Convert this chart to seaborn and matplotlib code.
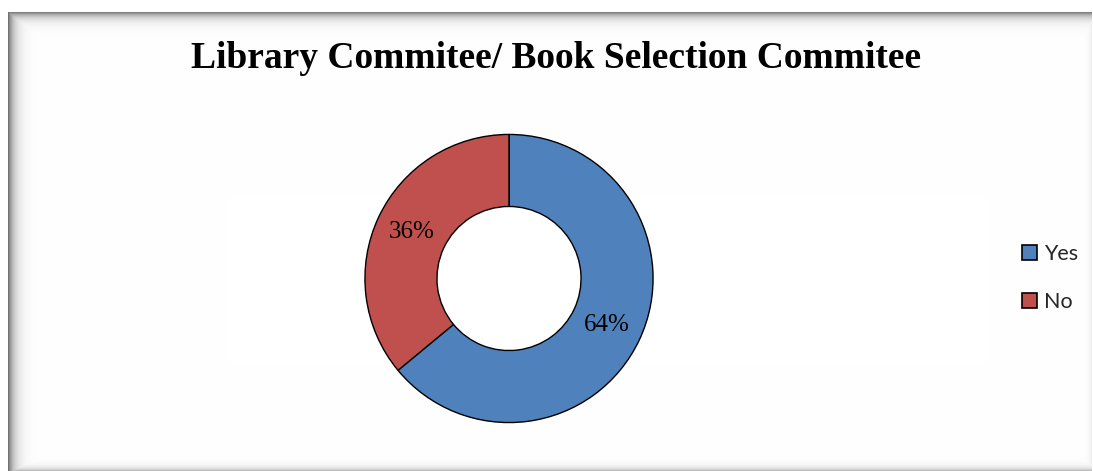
import numpy as np
import matplotlib
matplotlib.use("Agg")
import matplotlib.pyplot as plt
import seaborn as sns

# Survey answers
categories = ["Yes", "No"]
shares = [64, 36]
colors = ["#4F81BD", "#C0504D"]
title = "Library Commitee/ Book Selection Commitee"

sns.set_theme(style="white")
plt.rcParams["font.family"] = ["Liberation Serif", "DejaVu Serif"]

W, H, DPI = 1093, 471, 100
fig = plt.figure(figsize=(W / DPI, H / DPI), dpi=DPI)
fig.patch.set_facecolor("white")

# Framed panel with a soft inner shadow along its edges (drawn pixel for pixel)
xs = np.arange(W)[None, :].astype(float)
ys = np.arange(H)[:, None].astype(float)
x0, y0, x1, y1 = 8, 12, 1091, 470
dark = np.zeros((H, W))
dark = np.maximum(dark, 0.55 * np.exp(-np.clip(xs - x0, 0, None) / 6.0))
dark = np.maximum(dark, 0.50 * np.exp(-np.clip(ys - y0, 0, None) / 5.0))
dark = np.maximum(dark, 0.25 * np.exp(-np.clip(y1 - ys, 0, None) / 3.0))
dark = np.maximum(dark, 0.06 * np.exp(-np.clip(x1 - xs, 0, None) / 3.0))
img = 1.0 - dark
inside = (xs >= x0) & (ys >= y0) & (xs <= x1) & (ys <= y1)
img = np.where(inside, img, 1.0)
fig.figimage(np.dstack([img, img, img]), xo=0, yo=0, origin="upper", zorder=-10)

fig.text(556 / W, 1 - 58 / H, title, ha="center", va="center",
         fontsize=27, fontweight="bold", color="black")

# Doughnut chart
cx, cy, r = 509, 278.5, 145.5
ax = fig.add_axes([(cx - r) / W, (H - cy - r) / H, 2 * r / W, 2 * r / H])
ax.set_zorder(1)
ax.patch.set_alpha(0)
wedges, texts, autotexts = ax.pie(
    shares, colors=colors, startangle=90, counterclock=False, radius=1,
    autopct="%d%%", pctdistance=0.75,
    wedgeprops=dict(width=0.5, edgecolor="black", linewidth=1.0),
    textprops=dict(fontsize=18, color="black"))
ax.set_xlim(-1.01, 1.01)
ax.set_ylim(-1.01, 1.01)
ax.set_aspect("equal")
ax.set_axis_off()

leg = fig.legend(wedges, categories, loc="center left",
                 bbox_to_anchor=(1011 / W, 1 - 278 / H), frameon=False,
                 prop={"family": ["Lato", "DejaVu Sans"], "size": 15.5},
                 handlelength=0.7, handleheight=0.7, handletextpad=0.35,
                 labelspacing=1.3, borderpad=0)
leg.set_zorder(2)
for h in leg.legend_handles:
    h.set_linewidth(1.2)

fig.savefig("out.png", dpi=DPI)
